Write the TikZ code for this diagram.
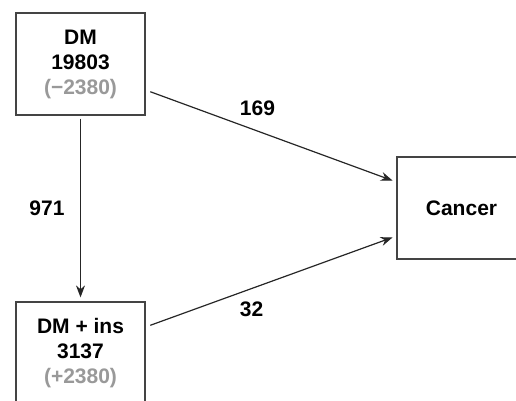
\documentclass[tikz,border=0pt]{standalone}
\usepackage{fontspec}
\setmainfont{Liberation Sans}
\usetikzlibrary{arrows.meta}
\definecolor{BoxGray}{HTML}{444444}
\definecolor{NoteGray}{HTML}{999999}

\begin{document}
\begin{tikzpicture}[x=1pt, y=-1pt, >={Stealth[length=12pt, width=9pt]},
  box/.style={draw=BoxGray, line width=1.2pt, fill=white, minimum width=129pt,
    minimum height=102pt, align=center, font=\fontsize{21}{25}\selectfont\bfseries},
  count/.style={font=\fontsize{21}{24}\selectfont\bfseries},
  flow/.style={->, draw=black!85, line width=1.2pt}]
  \useasboundingbox (0,0) rectangle (516,400);
  \clip (0,0) rectangle (516,400);

  % boxes
  \node[box] (dm) at (80.5,64) {DM\\19803\\\textcolor{NoteGray}{(\textminus 2380)}};
  \node[box] (ins) at (80.5,353) {DM + ins\\3137\\\textcolor{NoteGray}{(+2380)}};
  \node[box] (cancer) at (461.5,208) {Cancer};

  % flows
  \draw[flow, shorten <=3pt, shorten >=4pt] (dm.south) -- (ins.north);
  \draw[flow, shorten <=5pt, shorten >=4pt] (dm.east |- 0,90) -- (cancer.west |- 0,182);
  \draw[flow, shorten <=5pt, shorten >=4pt] (ins.east |- 0,327) -- (cancer.west |- 0,236);

  % counts
  \node[count] (n169) at (257.5,108.5) {169};
  \node[count] (n971) at (47,208.5) {971};
  \node[count] (n32) at (251.5,309.5) {32};
\end{tikzpicture}
\end{document}
